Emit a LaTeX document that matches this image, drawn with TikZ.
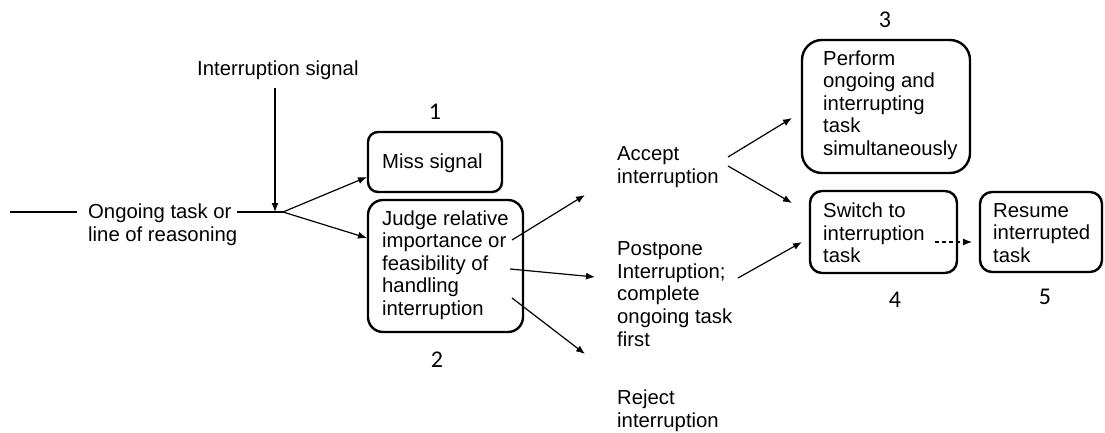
\documentclass[tikz,border=0pt]{standalone}
\usepackage{fontspec}
\setmainfont{Liberation Sans}
\newfontfamily\numfont{Carlito}
\usetikzlibrary{arrows.meta,calc}
\begin{document}
\begin{tikzpicture}[x=1pt,y=-1pt,
 txt/.style={font=\fontsize{20.3}{22.6}\selectfont, align=left, inner sep=0pt, anchor=west},
 box/.style={draw, line width=2.4pt, rounded corners=#1, inner sep=0pt},
 box/.default=12pt,
 num/.style={font=\numfont\fontsize{24}{26}\selectfont, inner sep=0pt},
 arr/.style={line width=1.2pt, -{Latex[length=9pt,width=7pt]}},
 ln/.style={line width=1.2pt}]
\useasboundingbox (0,0) rectangle (1105,433);
% boxes
\node[box=10pt, minimum width=134pt, minimum height=60pt] (b1) at (435,162) {};
\node[box=15pt, minimum width=155pt, minimum height=132pt] (b2) at (445.5,266) {};
\node[box=20pt, minimum width=168pt, minimum height=133pt] (b3) at (886,106.5) {};
\node[box=12pt, minimum width=147pt, minimum height=82pt] (b4) at (883.5,232) {};
\node[box=12pt, minimum width=122pt, minimum height=80pt] (b5) at (1041,232) {};
% texts
\node[txt] (sig) at (197,70) {Interruption signal};
\node[txt] (og) at (88,225) {Ongoing task or\\line of reasoning};
\node[txt] (t1) at (382,163) {Miss signal};
\node[txt] (t2) at (382,265) {Judge relative\\importance or\\feasibility of\\handling\\interruption};
\node[txt] (acc) at (617,167) {Accept\\interruption};
\node[txt] (post) at (617,294) {Postpone\\Interruption;\\complete\\ongoing task\\first};
\node[txt] (rej) at (617,411) {Reject\\interruption};
\node[txt] (t3) at (823,105) {Perform\\ongoing and\\interrupting\\task\\simultaneously};
\node[txt] (t4) at (823,233) {Switch to\\interruption\\task};
\node[txt] (t5) at (993,233) {Resume\\interrupted\\task};
% numbers
\node[num] (n1) at (435,112) {1};
\node[num] (n2) at (437,360) {2};
\node[num] (n3) at (885,20) {3};
\node[num] (n4) at (895,300) {4};
\node[num] (n5) at (1045,297) {5};
% coordinates
\coordinate (lineL) at (10,212);
\coordinate (lineR) at (77,212);
\coordinate (ogEnd) at (237,212);
\coordinate (J) at (283,212);
\coordinate (sigTop) at (275,88);
\coordinate (sigBot) at (275,212);
\coordinate (e1) at (367,177);
\coordinate (e2) at (367,238);
\coordinate (jA) at (512,240);
\coordinate (aA) at (585,195);
\coordinate (jP) at (510,269);
\coordinate (aP) at (595,277);
\coordinate (jR) at (512,298);
\coordinate (aR) at (585,354);
\coordinate (acc1) at (728,157);
\coordinate (a3) at (792,118);
\coordinate (acc2) at (728,166);
\coordinate (a4) at (792,203);
\coordinate (pp) at (738,278);
\coordinate (a4b) at (802,242);
\coordinate (d1) at (935,242);
\coordinate (d2) at (972,242);
% connectors
\draw[ln] (lineL) -- (lineR);
\draw[ln] (ogEnd) -- (J);
\draw[arr] (sigTop) -- (sigBot);
\draw[arr] (J) -- (e1);
\draw[arr] (J) -- (e2);
\draw[arr] (jA) -- (aA);
\draw[arr] (jP) -- (aP);
\draw[arr] (jR) -- (aR);
\draw[arr] (acc1) -- (a3);
\draw[arr] (acc2) -- (a4);
\draw[arr] (pp) -- (a4b);
\draw[arr, dash pattern=on 4pt off 3pt] (d1) -- (d2);
\end{tikzpicture}
\end{document}
